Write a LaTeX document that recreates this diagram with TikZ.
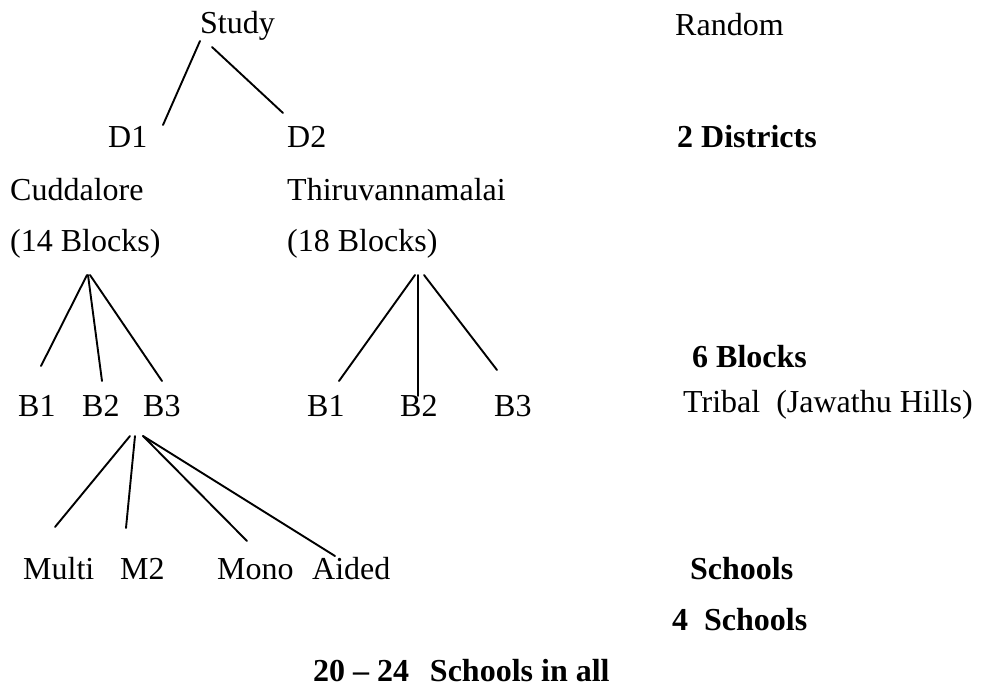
\documentclass[tikz,border=0pt]{standalone}
\usepackage{fontspec}
\setmainfont{Liberation Serif}
\usetikzlibrary{calc}

\begin{document}
\begin{tikzpicture}[
    x=1pt, y=-1pt,
    txt/.style={anchor=base west, inner sep=0pt, font=\fontsize{32}{38}\selectfont},
    boldtxt/.style={txt, font=\fontsize{32}{38}\selectfont\bfseries},
    link/.style={line width=1.9pt, line cap=round}
]
\useasboundingbox (0,0) rectangle (989,686);

% =================== TOP: STUDY ===================
\node[txt] (study) at (200,33) {Study};
\node[txt] (random) at (675,35) {Random};

% =================== DISTRICTS ===================
\node[txt] (d1) at (108,147) {D1};
\node[txt] (d2) at (287,147) {D2};
\node[boldtxt] (districts) at (677,147) {2 Districts};

\node[txt] (cud) at (10,200) {Cuddalore};
\node[txt] (thiru) at (287,200) {Thiruvannamalai};
\node[txt] (cudblocks) at (10,251) {(14 Blocks)};
\node[txt] (thiblocks) at (287,251) {(18 Blocks)};

\draw[link] ($(study.base west)+(0,8)$) -- ($(d1.base west)+(55,-22)$);
\draw[link] ($(study.base west)+(12,14)$) -- ($(d2.base west)+(-4,-34)$);

% =================== BLOCKS ===================
\node[boldtxt] (sixblocks) at (692,367) {6 Blocks};

\node[txt] (cb1) at (18,416) {B1};
\node[txt] (cb2) at (82,416) {B2};
\node[txt] (cb3) at (143,416) {B3};

\node[txt] (tb1) at (307,416) {B1};
\node[txt] (tb2) at (400,416) {B2};
\node[txt] (tb3) at (494,416) {B3};

\node[txt] (tribal) at (683,412) {Tribal\ \ (Jawathu Hills)};

\draw[link] ($(cudblocks.base west)+(77,24)$) -- ($(cb1.base west)+(23,-50)$);
\draw[link] ($(cudblocks.base west)+(78,24)$) -- ($(cb2.base west)+(20,-35)$);
\draw[link] ($(cudblocks.base west)+(80,24)$) -- ($(cb3.base west)+(19,-35)$);

\draw[link] ($(thiblocks.base west)+(128,24)$) -- ($(tb1.base west)+(32,-35)$);
\draw[link] ($(thiblocks.base west)+(131,24)$) -- ($(tb2.base west)+(18,-20)$);
\draw[link] ($(thiblocks.base west)+(137,24)$) -- ($(tb3.base west)+(3,-46)$);

% =================== SCHOOLS ===================
\node[txt] (multi) at (23,579) {Multi};
\node[txt] (m2) at (120,579) {M2};
\node[txt] (mono) at (217,579) {Mono};
\node[txt] (aided) at (312,579) {Aided};

\node[boldtxt] (schools) at (690,579) {Schools};
\node[boldtxt] (fourschools) at (672,630) {4\ \ Schools};
\node[boldtxt] (total) at (313,681) {20 -- 24\hspace{0.65em}Schools in all};

\draw[link] ($(cb3.base west)+(-13,20)$) -- ($(multi.base west)+(32,-52)$);
\draw[link] ($(cb3.base west)+(-8,20)$) -- ($(m2.base west)+(6,-51)$);
\draw[link] ($(cb3.base west)+(0,20)$) -- ($(mono.base west)+(30,-38)$);
\draw[link] ($(cb3.base west)+(0,20)$) -- ($(aided.base west)+(23,-23)$);

\end{tikzpicture}
\end{document}
